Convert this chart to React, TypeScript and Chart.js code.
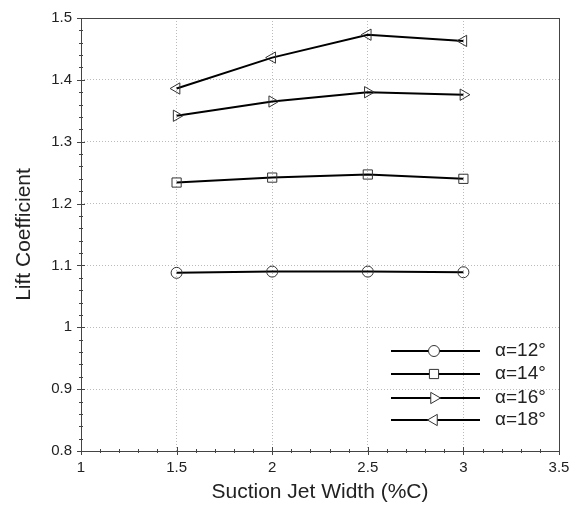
import React, { useEffect, useRef } from "react";
import { Chart, registerables } from "chart.js";

Chart.register(...registerables);

const jetWidth = [1.5, 2, 2.5, 3];
const cl12 = [1.088, 1.090, 1.090, 1.089];
const cl14 = [1.234, 1.242, 1.247, 1.240];
const cl16 = [1.342, 1.365, 1.380, 1.376];
const cl18 = [1.386, 1.436, 1.473, 1.463];
const seriesLabels = ["α=12°", "α=14°", "α=16°", "α=18°"];
const xTicks = [1, 1.5, 2, 2.5, 3, 3.5];
const yTicks = [0.8, 0.9, 1, 1.1, 1.2, 1.3, 1.4, 1.5];

const FONT = "'Liberation Sans', Arial, Helvetica, sans-serif";

function drawPoint(ctx: any, style: string, r: number, x: number, y: number, rotDeg: number) {
  ctx.save();
  ctx.translate(x, y);
  ctx.rotate((rotDeg * Math.PI) / 180);
  ctx.beginPath();
  if (style === "circle") {
    ctx.arc(0, 0, r, 0, Math.PI * 2);
  } else if (style === "rect") {
    const s = r / Math.SQRT2;
    ctx.rect(-s, -s, 2 * s, 2 * s);
  } else {
    const a = (2 * Math.PI) / 3;
    ctx.moveTo(0, -r);
    ctx.lineTo(Math.sin(a) * r, -Math.cos(a) * r);
    ctx.lineTo(Math.sin(-a) * r, -Math.cos(-a) * r);
    ctx.closePath();
  }
  ctx.fill();
  ctx.stroke();
  ctx.restore();
}

const extrasPlugin = {
  id: "extras",
  afterDraw(chart: any) {
    const ctx = chart.ctx;
    const { left, right, top, bottom } = chart.chartArea;
    const xs = chart.scales.x;
    const ys = chart.scales.y;
    ctx.save();
    ctx.strokeStyle = "#444";
    ctx.lineWidth = 1;
    ctx.strokeRect(Math.round(left) + 0.5, Math.round(top) + 0.5, Math.round(right - left), Math.round(bottom - top));
    ctx.beginPath();
    for (let i = 0; i <= 25; i++) {
      const v = 1 + i * 0.1;
      const px = Math.round(xs.getPixelForValue(v)) + 0.5;
      const len = i % 5 === 0 ? 4 : 2;
      ctx.moveTo(px, bottom - len);
      ctx.lineTo(px, bottom + len);
    }
    for (let i = 0; i <= 35; i++) {
      const v = 0.8 + i * 0.02;
      const py = Math.round(ys.getPixelForValue(v)) + 0.5;
      const len = i % 5 === 0 ? 4 : 2;
      ctx.moveTo(left - len, py);
      ctx.lineTo(left + len, py);
    }
    ctx.stroke();
    // legend
    const lx0 = right - 168;
    const lx1 = right - 79;
    const mx = right - 125;
    const tx = right - 64;
    const rowY = [bottom - 100, bottom - 77, bottom - 53, bottom - 31];
    chart.data.datasets.forEach((ds: any, i: number) => {
      const y = rowY[i];
      ctx.strokeStyle = "#000";
      ctx.lineWidth = 2;
      ctx.beginPath();
      ctx.moveTo(lx0, y);
      ctx.lineTo(lx1, y);
      ctx.stroke();
      ctx.lineWidth = 1;
      ctx.fillStyle = "#fff";
      ctx.strokeStyle = "#333";
      drawPoint(ctx, ds.pointStyle, ds.pointRadius, mx, y, ds.pointRotation || 0);
      ctx.fillStyle = "#222";
      ctx.font = `19px ${FONT}`;
      ctx.textBaseline = "middle";
      ctx.textAlign = "left";
      ctx.fillText(seriesLabels[i], tx, y);
    });
    ctx.restore();
  },
};

function makeDs(label: string, vals: number[], style: string, radius: number, rot: number) {
  return {
    label,
    data: jetWidth.map((x, i) => ({ x, y: vals[i] })),
    borderColor: "#000",
    borderWidth: 2,
    pointStyle: style,
    pointRadius: radius,
    pointRotation: rot,
    pointBackgroundColor: "rgba(255,255,255,0)",
    pointBorderColor: "#333",
    pointBorderWidth: 1,
    showLine: true,
    fill: false,
    tension: 0,
  };
}

export default function App() {
  const ref = useRef<HTMLCanvasElement>(null);
  useEffect(() => {
    document.body.style.margin = "0";
    const chart = new Chart(ref.current as HTMLCanvasElement, {
      type: "scatter",
      data: {
        datasets: [
          makeDs(seriesLabels[0], cl12, "circle", 5.5, 0),
          makeDs(seriesLabels[1], cl14, "rect", 6.5, 0),
          makeDs(seriesLabels[2], cl16, "triangle", 6.5, 90),
          makeDs(seriesLabels[3], cl18, "triangle", 6.5, -90),
        ] as any,
      },
      options: {
        animation: false,
        responsive: false,
        layout: { padding: { top: 16, right: 19, left: 0, bottom: 0 } },
        plugins: { legend: { display: false }, tooltip: { enabled: false } },
        scales: {
          x: {
            type: "linear",
            min: 1,
            max: 3.5,
            afterBuildTicks: (s: any) => {
              s.ticks = xTicks.map((v) => ({ value: v }));
            },
            afterFit: (s: any) => {
              s.height = 54;
            },
            grid: { drawTicks: false, color: "#bbb", lineWidth: 1 },
            border: { display: false, dash: [1, 2] },
            ticks: {
              padding: 8,
              color: "#222",
              font: { family: FONT, size: 15 },
              callback: (v: any) => String(v),
            },
            title: {
              display: true,
              text: "Suction Jet Width (%C)",
              color: "#222",
              font: { family: FONT, size: 21 },
              padding: { top: 0, bottom: 0 },
            },
          },
          y: {
            type: "linear",
            min: 0.8,
            max: 1.5,
            afterBuildTicks: (s: any) => {
              s.ticks = yTicks.map((v) => ({ value: v }));
            },
            afterFit: (s: any) => {
              s.width = 81;
            },
            grid: { drawTicks: false, color: "#bbb", lineWidth: 1 },
            border: { display: false, dash: [1, 2] },
            ticks: {
              padding: 9,
              color: "#222",
              font: { family: FONT, size: 15 },
              callback: (v: any) => String(v),
            },
            title: {
              display: true,
              text: "Lift Coefficient",
              color: "#222",
              font: { family: FONT, size: 21 },
              padding: { top: 12, bottom: 0 },
            },
          },
        },
      },
      plugins: [extrasPlugin],
    });
    return () => chart.destroy();
  }, []);
  return (
    <div style={{ width: 578, height: 505 }}>
      <canvas ref={ref} width={578} height={505} style={{ width: 578, height: 505 }} />
    </div>
  );
}
